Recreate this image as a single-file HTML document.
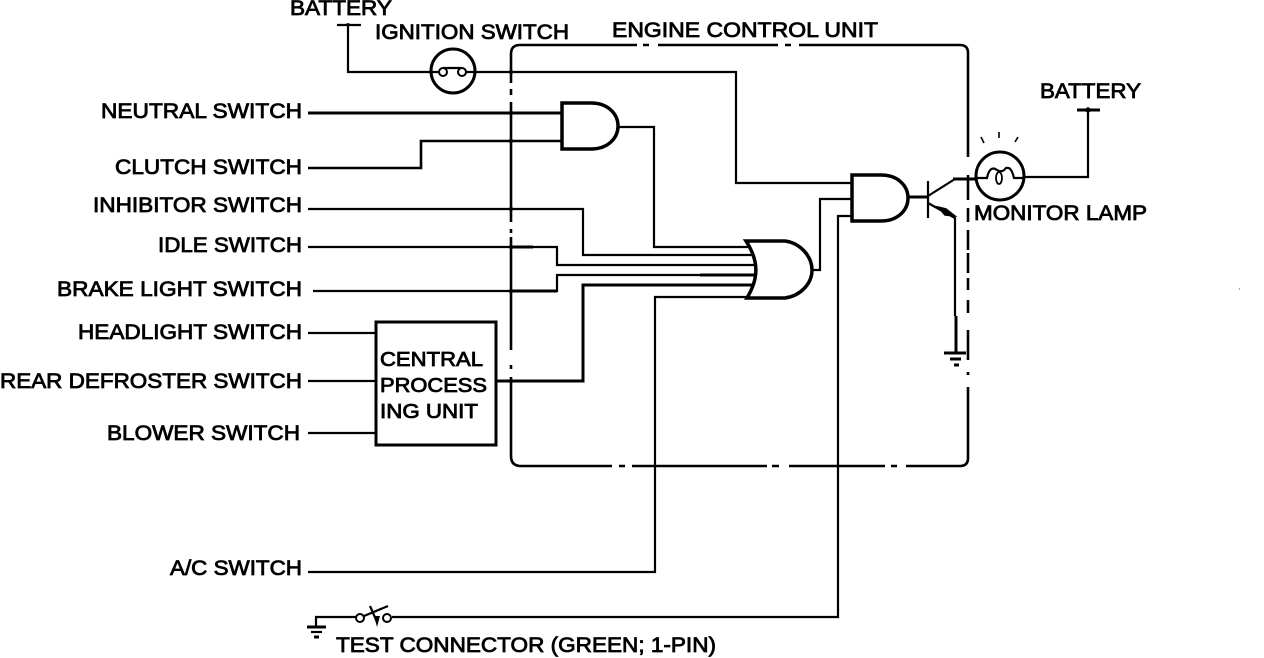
<!DOCTYPE html>
<html>
<head>
<meta charset="utf-8">
<style>
html,body{margin:0;padding:0;background:#fff;width:1264px;height:658px;overflow:hidden}
svg{display:block}
text{font-family:"Liberation Sans",sans-serif;font-size:21px;fill:#000;stroke:#000;stroke-width:.8px}
.c{font-size:20px}
.w{fill:none;stroke:#000;stroke-width:2.2;stroke-linejoin:miter}
.t{fill:none;stroke:#000;stroke-width:3}
.e{fill:none;stroke:#000;stroke-width:2.6}
.g{fill:#fff;stroke:#000;stroke-width:3.5}
</style>
</head>
<body>
<svg width="1264" height="658" viewBox="0 0 1264 658" xmlns="http://www.w3.org/2000/svg">
<!-- ECU boundary: dash-dot outline -->
<path class="e" d="M511 83V54Q511 45 520 45H637M643 45H649M658 45H778M785 45H791M799 45H960Q968 45 968 53V157"/>
<path class="e" d="M968 175V200M968 208V222M968 230V250M968 253V273M968 278V290M968 300V313M968 330V360M968 372V375M968 387V458Q968 466 960 466H906M897 466H891M885 466H789M779 466H772M767 466H632M625 466H619M612 466H521Q511 466 511 456V377M511 369V365M511 350V237M511 233V229M511 222V102M511 95V89"/>
<!-- crossing dots on the left boundary -->
<path d="M508 72L511 69L514 72L511 75ZM508 113L511 110L514 113L511 116ZM508 141L511 138L514 141L511 144ZM508 209L511 206L514 209L511 212ZM508 247L511 244L514 247L511 250ZM508 291L511 288L514 291L511 294ZM508 381L511 378L514 381L511 384Z" fill="#000"/>
<!-- top wire / ignition -->
<path class="w" d="M337 25H361M348 25V72H431M475 72H736V183H851"/>
<circle cx="453" cy="71" r="22" fill="#fff" stroke="#000" stroke-width="3"/>
<path class="w" d="M431 72H439M466 72H475M443 68H462"/>
<circle cx="443" cy="72" r="4" fill="#fff" stroke="#000" stroke-width="2"/>
<circle cx="462" cy="72" r="4" fill="#fff" stroke="#000" stroke-width="2"/>
<!-- input wires -->
<path class="t" d="M308 113H561"/>
<path class="e" d="M308 168H421V141H561"/>
<path class="w" d="M618 127H654V247H750"/>
<path class="w" d="M308 209H583V255H752"/>
<path class="w" d="M308 247H557V265H754"/>
<path class="w" d="M313 291H557V275H754"/>
<path class="t" d="M497 381H583V285H752"/>
<path class="w" d="M308 572H655V297H750"/>
<path class="w" d="M308 333H375M308 381H375M308 433H375"/>
<path class="w" d="M812 270H820V199H851"/>
<path class="w" d="M392 617H838V216H851"/>
<!-- thicker wire portions -->
<path class="t" d="M511 247H533M511 291H557M700 275H754"/>
<!-- AND 1 -->
<path class="g" d="M562 103H591C608 103 618 114 618 126C618 138 608 149 591 149H562Z"/>
<!-- OR gate -->
<path class="g" d="M746 241H785C800 243 812 256 812 270C812 284 800 296 785 298H747C759 278 759 261 746 241Z"/>
<!-- AND 2 -->
<path class="g" d="M852 175H881C898 175 908 186 908 198C908 210 898 221 881 221H852Z"/>
<!-- transistor -->
<path class="t" d="M908 197H928"/>
<path class="w" d="M928 181V218"/>
<path class="w" d="M928 196L955 179"/>
<path class="t" d="M953 179H977"/>
<path class="w" d="M928 203L955 218V316"/>
<path d="M938 207L946 209L955 216L945 215Z" fill="#000" stroke="#000" stroke-width="1.5"/>
<path class="t" d="M956 316V352"/>
<path class="t" d="M944 353H966"/>
<path class="t" d="M950 359H961"/>
<path class="t" d="M954 365H959"/>
<!-- lamp -->
<circle cx="1000" cy="176" r="24" fill="#fff" stroke="#000" stroke-width="3"/>
<path class="w" d="M977 178H987C989 168 993 167 997 170C1000 172 1003 172 1006 168C1010 167 1012 170 1014 178H1024"/>
<ellipse cx="999" cy="178" rx="3" ry="6" fill="#fff" stroke="#000" stroke-width="1.8"/>
<path class="w" d="M1024 177H1088V110"/>
<path class="t" d="M1077 110H1100"/>
<path d="M1083 110L1088 107L1093 110L1088 113Z" fill="#000"/>
<path d="M981 137L984 143M999 132V138M1018 137L1015 142" stroke="#000" stroke-width="1.6" fill="none"/>
<path d="M343 25l5-2l5 2z" fill="#000"/>
<!-- CPU -->
<rect x="376" y="322" width="120" height="123" fill="#fff" stroke="#000" stroke-width="3"/>
<!-- test connector -->
<path class="w" d="M316 627V617H356"/>
<path class="t" d="M307 627H326"/>
<path class="w" d="M311 632H322"/>
<path class="t" d="M314 637H319"/>
<circle cx="360" cy="618" r="4" fill="#fff" stroke="#000" stroke-width="2"/>
<circle cx="387" cy="618" r="4" fill="#fff" stroke="#000" stroke-width="2"/>
<path class="w" d="M370 606L377 622M364 616L388 606"/>
<path d="M374 616L380 616L377 627Z" fill="#000"/>
<!-- labels -->
<text x="290" y="15" textLength="102" lengthAdjust="spacingAndGlyphs">BATTERY</text>
<text x="375" y="39" textLength="194" lengthAdjust="spacingAndGlyphs">IGNITION SWITCH</text>
<text x="612" y="37" textLength="266" lengthAdjust="spacingAndGlyphs">ENGINE CONTROL UNIT</text>
<text x="1040" y="98" textLength="101" lengthAdjust="spacingAndGlyphs">BATTERY</text>
<text x="974" y="220" textLength="173" lengthAdjust="spacingAndGlyphs">MONITOR LAMP</text>
<text x="101" y="118" textLength="201" lengthAdjust="spacingAndGlyphs">NEUTRAL SWITCH</text>
<text x="115" y="174" textLength="187" lengthAdjust="spacingAndGlyphs">CLUTCH SWITCH</text>
<text x="93" y="212" textLength="209" lengthAdjust="spacingAndGlyphs">INHIBITOR SWITCH</text>
<text x="158" y="252" textLength="144" lengthAdjust="spacingAndGlyphs">IDLE SWITCH</text>
<text x="57" y="296" textLength="245" lengthAdjust="spacingAndGlyphs">BRAKE LIGHT SWITCH</text>
<text x="78" y="339" textLength="224" lengthAdjust="spacingAndGlyphs">HEADLIGHT SWITCH</text>
<text x="0" y="388" textLength="302" lengthAdjust="spacingAndGlyphs">REAR DEFROSTER SWITCH</text>
<text x="107" y="440" textLength="193" lengthAdjust="spacingAndGlyphs">BLOWER SWITCH</text>
<text x="170" y="575" textLength="132" lengthAdjust="spacingAndGlyphs">A/C SWITCH</text>
<text x="336" y="652" textLength="380" lengthAdjust="spacingAndGlyphs">TEST CONNECTOR (GREEN; 1-PIN)</text>
<text class="c" x="380" y="366" textLength="103" lengthAdjust="spacingAndGlyphs">CENTRAL</text>
<text class="c" x="380" y="392" textLength="107" lengthAdjust="spacingAndGlyphs">PROCESS</text>
<text class="c" x="380" y="418" textLength="98" lengthAdjust="spacingAndGlyphs">ING UNIT</text>
<path d="M1239 289h1" stroke="#555" stroke-width="1"/>
</svg>
</body>
</html>
